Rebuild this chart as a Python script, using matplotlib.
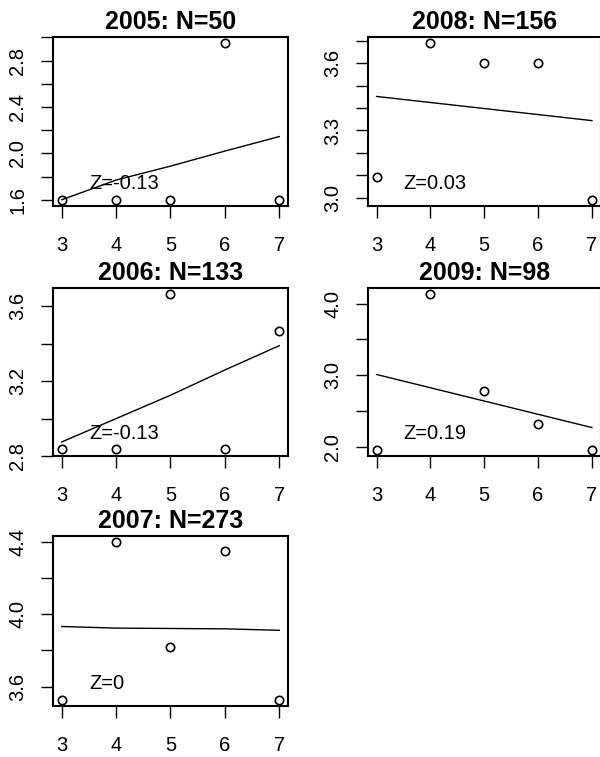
import numpy as np
import matplotlib.pyplot as plt

plt.rcParams['font.family'] = ['Liberation Sans', 'DejaVu Sans']

x = [3, 4, 5, 6, 7]
years = [2005, 2006, 2007, 2008, 2009]
n_obs = [50, 133, 273, 156, 98]
z_vals = ["-0.13", "-0.13", "0", "0.03", "0.19"]

y_2005 = [1.60, 1.60, 1.60, 2.95, 1.60]
y_2006 = [2.835, 2.835, 3.665, 2.835, 3.47]
y_2007 = [3.527, 4.40, 3.818, 4.35, 3.527]
y_2008 = [3.09, 3.69, 3.60, 3.60, 2.99]
y_2009 = [1.96, 4.13, 2.78, 2.32, 1.96]

fit_2005 = [1.60, 1.77, 1.89, 2.02, 2.145]
fit_2006 = [2.875, 3.00, 3.125, 3.26, 3.39]
fit_2007 = [3.933, 3.924, 3.922, 3.920, 3.912]
fit_2008 = [3.452, 3.425, 3.398, 3.371, 3.344]
fit_2009 = [3.01, 2.825, 2.64, 2.455, 2.27]

points = [y_2005, y_2006, y_2007, y_2008, y_2009]
fits = [fit_2005, fit_2006, fit_2007, fit_2008, fit_2009]

# (tick start, tick step, label every n-th tick)
yaxis = {2005: (1.6, 0.2, 2), 2006: (2.8, 0.2, 2), 2007: (3.6, 0.2, 2),
         2008: (3.0, 0.1, 3), 2009: (2.0, 0.5, 2)}

W, H = 600, 757
fig = plt.figure(figsize=(W / 100, H / 100), dpi=100)

# panel boxes in pixels: left, right, top, bottom (filled column by column)
cols = [(53, 288), (368, 600.5)]
rows = [(37, 206), (288, 456), (536, 706)]
slots = [(0, 0), (0, 1), (0, 2), (1, 0), (1, 1)]

for i, yr in enumerate(years):
    c, r = slots[i]
    l, rr = cols[c]
    t, b = rows[r]
    ax = fig.add_axes([l / W, (H - b) / H, (rr - l) / W, (b - t) / H])
    yv = points[i]
    ax.plot(x, fits[i], color='black', lw=1.0)
    ax.plot(x, yv, 'o', mfc='none', mec='black', ms=6, mew=1.2)

    lo, hi = min(yv), max(yv)
    pad = 0.04 * (hi - lo)
    ax.set_ylim(lo - pad, hi + pad)
    ax.set_xlim(3 - 0.16, 7 + 0.16)

    start, step, every = yaxis[yr]
    ticks = np.arange(start, hi + pad + 1e-9, step)
    ax.set_yticks(ticks)
    ax.set_yticklabels(["%.1f" % v if k % every == 0 else "" for k, v in enumerate(ticks)],
                       rotation=90, va='center')
    ax.set_xticks(x)

    for s in ax.spines.values():
        s.set_linewidth(1.5)
    ax.tick_params(length=8.5, width=1.0, labelsize=14.5, direction='out')
    ax.tick_params(axis='x', pad=13)
    ax.tick_params(axis='y', pad=10)

    ax.set_title("%d: N=%d" % (yr, n_obs[i]), fontsize=18, fontweight='bold', pad=6)
    ax.text(3.5, 0.135, "Z=" + z_vals[i], fontsize=14.5, ha='left', va='center',
            transform=ax.get_xaxis_transform())

fig.savefig("out.png", dpi=100)
